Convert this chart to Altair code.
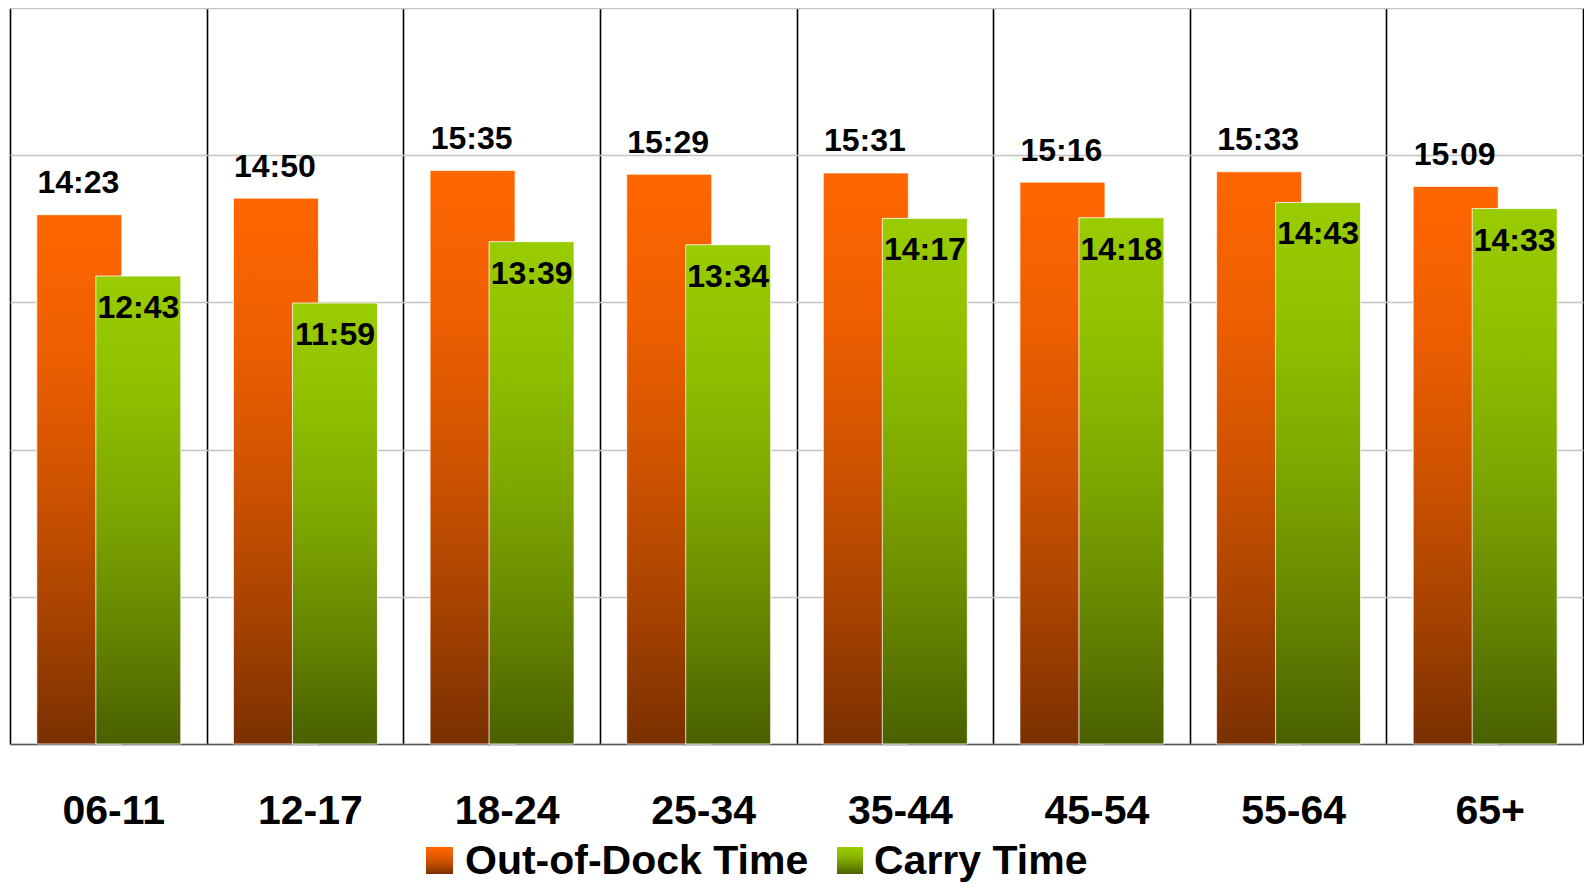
import altair as alt
import pandas as pd

categories = ["06-11", "12-17", "18-24", "25-34", "35-44", "45-54", "55-64", "65+"]
out_of_dock = ["14:23", "14:50", "15:35", "15:29", "15:31", "15:16", "15:33", "15:09"]
carry_time = ["12:43", "11:59", "13:39", "13:34", "14:17", "14:18", "14:43", "14:33"]
series_names = ["Out-of-Dock Time", "Carry Time"]
y_grid_minutes = [0, 4, 8, 12, 16, 20]


def to_minutes(s):
    m, sec = s.split(":")
    return int(m) + int(sec) / 60.0


rows = []
for c, o, k in zip(categories, out_of_dock, carry_time):
    rows.append({"cat": c, "series": series_names[0], "minutes": to_minutes(o), "label": o})
    rows.append({"cat": c, "series": series_names[1], "minutes": to_minutes(k), "label": k})
df = pd.DataFrame(rows)

W, H = 1573, 736
FONT = "Liberation Sans, Arial, sans-serif"


def grad(stops):
    return alt.LinearGradient(
        gradient="linear", x1=0, x2=0, y1=0, y2=1,
        stops=[alt.GradientStop(offset=o, color=c) for o, c in stops],
    )


orange = grad([(0, "#FF6600"), (0.25, "#EE5F00"), (0.5, "#D05300"), (0.75, "#A94300"), (1, "#7A3000")])
green = grad([(0, "#99CC00"), (0.25, "#8FBE00"), (0.5, "#7DA600"), (0.75, "#668600"), (1, "#4A6000")])

x_enc = alt.X(
    "cat:N", sort=categories,
    scale=alt.Scale(paddingInner=0, paddingOuter=0),
    axis=alt.Axis(
        title=None, labelAngle=0, labelFont=FONT, labelFontSize=41, labelFontWeight="bold",
        labelColor="black", labelBaseline="alphabetic", labelPadding=79, labelOffset=5,
        ticks=False, tickSize=0, domain=True, domainColor="#555555", domainWidth=1.5,
        grid=True, gridColor="black", gridWidth=1.6, tickBand="extent",
    ),
)
y_enc = alt.Y(
    "minutes:Q",
    scale=alt.Scale(domain=[0, 20], nice=False),
    axis=alt.Axis(title=None, labels=False, ticks=False, domain=False, grid=True,
                  gridColor="#C4C4C4", gridWidth=1.5, values=y_grid_minutes),
)

base = alt.Chart(df)

bars_out = base.transform_filter(alt.datum.series == series_names[0]).mark_bar(
    width=85, xOffset=-29, fill=orange, stroke="white", strokeWidth=1, strokeOpacity=0.7
).encode(x=x_enc, y=y_enc)

bars_carry = base.transform_filter(alt.datum.series == series_names[1]).mark_bar(
    width=85, xOffset=30, fill=green, stroke="white", strokeWidth=1, strokeOpacity=0.8
).encode(x=x_enc, y=y_enc)

text_style = dict(font=FONT, fontSize=32, fontWeight="bold", color="black",
                  baseline="alphabetic", align="center")

labels_out = base.transform_filter(alt.datum.series == series_names[0]).mark_text(
    xOffset=-30, dy=-21.5, **text_style
).encode(x=x_enc, y=y_enc, text="label:N")

labels_carry = base.transform_filter(alt.datum.series == series_names[1]).mark_text(
    xOffset=30, dy=42, **text_style
).encode(x=x_enc, y=y_enc, text="label:N")

legend_df = pd.DataFrame({"series": series_names})

LEG_BASE = 866
leg_sq_out = alt.Chart(legend_df).transform_filter(alt.datum.series == series_names[0]).mark_rect(
    fill=orange
).encode(x=alt.value(416), x2=alt.value(443), y=alt.value(LEG_BASE - 27), y2=alt.value(LEG_BASE))
leg_sq_carry = alt.Chart(legend_df).transform_filter(alt.datum.series == series_names[1]).mark_rect(
    fill=green
).encode(x=alt.value(827), x2=alt.value(853), y=alt.value(LEG_BASE - 27), y2=alt.value(LEG_BASE))

leg_style = dict(font=FONT, fontSize=41, fontWeight="bold", color="black",
                 baseline="alphabetic", align="left")
leg_txt_out = alt.Chart(legend_df).transform_filter(alt.datum.series == series_names[0]).mark_text(
    **leg_style
).encode(x=alt.value(455), y=alt.value(LEG_BASE), text="series:N")
leg_txt_carry = alt.Chart(legend_df).transform_filter(alt.datum.series == series_names[1]).mark_text(
    **leg_style
).encode(x=alt.value(864), y=alt.value(LEG_BASE), text="series:N")

chart = alt.layer(
    bars_out, bars_carry, labels_out, labels_carry,
    leg_sq_out, leg_sq_carry, leg_txt_out, leg_txt_carry,
).properties(
    width=W, height=H,
    autosize=alt.AutoSizeParams(type="none"),
    padding={"left": 2, "top": 0, "right": 1, "bottom": 140},
).configure_view(stroke=None).configure(background="white")

chart.save("out.html", embed_options={"renderer": "svg", "actions": False})
